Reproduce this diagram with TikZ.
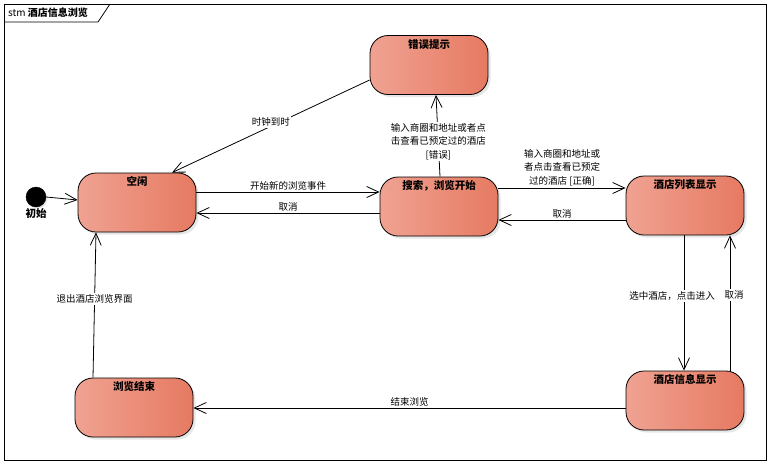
\documentclass[tikz,border=0pt]{standalone}
\usepackage{fontspec}
\setmainfont{Noto Sans CJK SC}
\usetikzlibrary{arrows.meta, shadows}
\definecolor{salmonL}{RGB}{240,162,146}
\definecolor{salmonR}{RGB}{230,122,98}

\begin{document}
\begin{tikzpicture}[x=1pt, y=-1pt, >={Straight Barb[length=12pt, width=11pt]},
    hstate/.style={draw, line width=0.8pt, rounded corners=18pt, minimum width=118pt, minimum height=59pt,
        left color=salmonL, right color=salmonR,
        drop shadow={opacity=0.2, shadow xshift=2.5pt, shadow yshift=-2.5pt}},
    title/.style={anchor=north, yshift=-3pt, inner sep=1pt, font=\bfseries\fontsize{10.5}{12}\selectfont},
    elabel/.style={font=\fontsize{9.5}{13.5}\selectfont, align=center, inner sep=1.5pt}]
        \useasboundingbox (0,0) rectangle (771,464);
        \draw[line width=0.8pt] (4,4) rectangle (766,460);
        \draw[line width=0.8pt] (4,22) -- (98,22) -- (110,4);
        \node[anchor=west, inner sep=0pt, font=\fontsize{10}{12}\selectfont] (frame_title) at (8,13) {stm \textbf{酒店信息浏览}};

        \node[circle, draw, fill=black, minimum size=20pt, inner sep=0pt,
              drop shadow={opacity=0.2, shadow xshift=1.5pt, shadow yshift=-1.5pt},
              label={[inner sep=1pt, font=\bfseries\fontsize{10.5}{12}\selectfont]below:初始}] (init) at (36,197) {};
        \node[hstate, label={[title]north:空闲}]          (idle)         at (137,202.5) {};
        \node[hstate, label={[title]north:错误提示}]      (error_hint)   at (429,65)    {};
        \node[hstate, label={[title]north:搜索，浏览开始}] (search_start) at (439,206.5) {};
        \node[hstate, label={[title]north:酒店列表显示}]  (hotel_list)   at (685,205.5) {};
        \node[hstate, label={[title]north:酒店信息显示}]  (hotel_info)   at (685,400.5) {};
        \node[hstate, label={[title]north:浏览结束}]      (browse_end)   at (134,407.5) {};

        \path[->, line width=0.8pt]
            (init.east)                      edge ([yshift=2.5pt]idle.west)
            ([yshift=-15pt]error_hint.west)  edge node[elabel, fill=white, yshift=4pt] {时钟到时} ([xshift=35pt]idle.north)
            ([yshift=10.5pt]idle.east)       edge node[elabel, above] {开始新的浏览事件} ([yshift=14.5pt]search_start.west)
            ([yshift=-6.5pt]search_start.west) edge node[elabel, above] {取消} ([yshift=-10.5pt]idle.east)
            ([xshift=1pt]search_start.north) edge node[elabel, fill=white, pos=0.43] {输入商圈和地址或者点\\击查看已预定过的酒店\\{[}错误{]}} ([xshift=7pt]error_hint.south)
            ([yshift=18.5pt]search_start.east) edge node[elabel, above] {输入商圈和地址或\\者点击查看已预定\\过的酒店 {[}正确{]}} ([yshift=17.5pt]hotel_list.west)
            ([yshift=-14.5pt]hotel_list.west) edge node[elabel, above] {取消} ([yshift=-13.5pt]search_start.east)
            ([xshift=-1pt]hotel_list.south)  edge node[elabel, fill=white, pos=0.45, xshift=-12pt] {选中酒店，点击进入} ([xshift=-1pt]hotel_info.north)
            ([xshift=45pt]hotel_info.north)  edge node[elabel, fill=white, pos=0.56, xshift=4pt] {取消} ([xshift=45pt]hotel_list.south)
            ([yshift=-7.5pt]hotel_info.west) edge node[elabel, above] {结束浏览} ([yshift=-0.5pt]browse_end.east)
            ([xshift=-41pt]browse_end.north) edge node[elabel, fill=white, pos=0.54] {退出酒店浏览界面} ([xshift=-41pt]idle.south);
    \end{tikzpicture}
\end{document}
